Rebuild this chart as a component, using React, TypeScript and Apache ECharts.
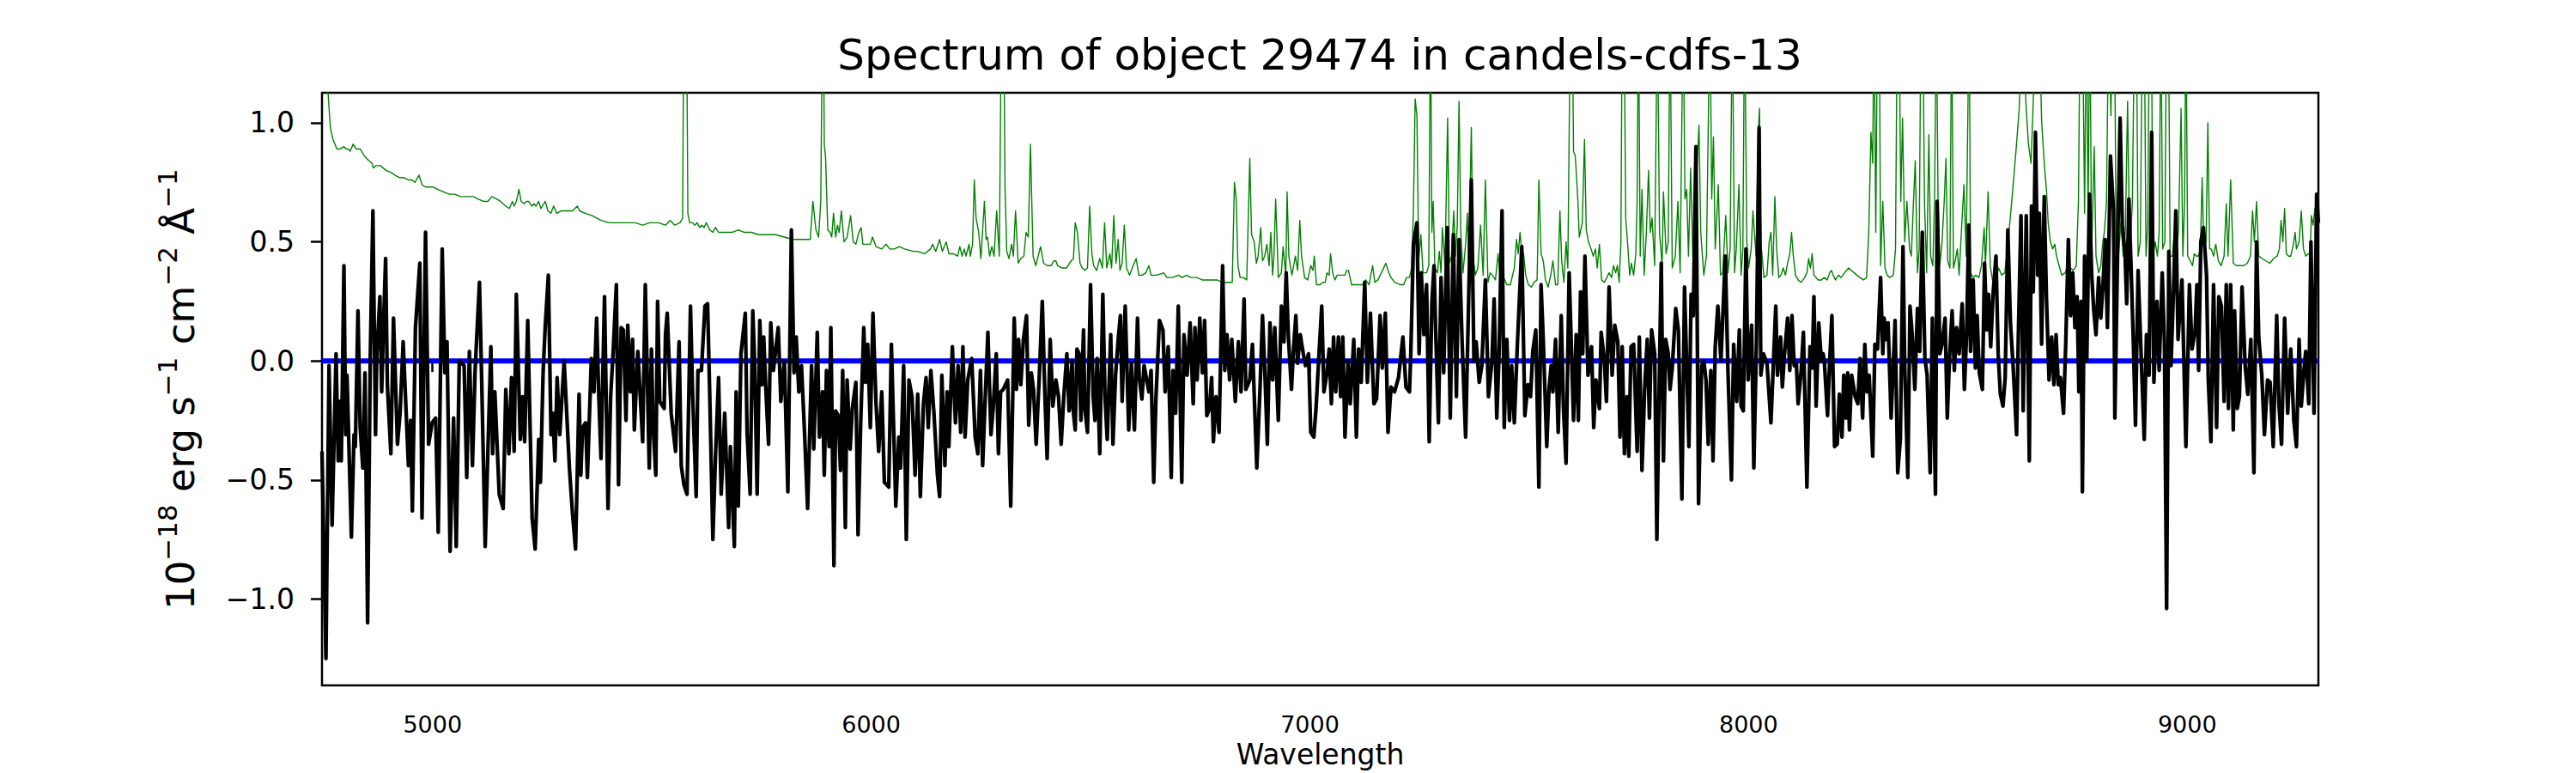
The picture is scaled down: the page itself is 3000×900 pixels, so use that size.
import { useEffect, useRef } from "react";
import * as echarts from "echarts";

const TITLE = "Spectrum of object 29474 in candels-cdfs-13";
const X_LABEL = "Wavelength";
const Y_LABEL = "{n|10}{s|\u221218}{n| erg s}{s|\u22121}{n| cm}{s|\u22122}{n| \u00c5}{s|\u22121}";
const X_RANGE = [4748, 9299];
const Y_RANGE = [-1.363, 1.126];
const X_TICKS = [5000, 6000, 7000, 8000, 9000];
const Y_TICKS = [-1.0, -0.5, 0.0, 0.5, 1.0];

// observed flux (black)
const fluxPoints: [number, number][] = [
  [4748,-0.38],[4757,-1.25],[4764,-0.02],[4771,-0.69],[4780,0.03],[4785,-0.42],[4788,-0.17],[4792,-0.42],[4798,0.40],[4802,-0.31],
  [4805,-0.06],[4815,-0.74],[4821,-0.31],[4824,-0.36],[4830,0.21],[4835,-0.28],[4841,-0.45],[4846,-0.05],[4852,-1.10],[4858,0.01],
  [4864,0.63],[4870,-0.31],[4873,0.03],[4880,0.27],[4884,-0.13],[4888,0.14],[4893,0.43],[4897,-0.10],[4905,-0.39],[4911,0.18],
  [4920,-0.35],[4926,-0.22],[4933,0.08],[4945,-0.44],[4950,-0.25],[4954,-0.63],[4961,0.14],[4971,0.41],[4976,-0.66],[4984,0.54],
  [4991,-0.35],[4999,-0.26],[5007,-0.24],[5013,-0.72],[5022,0.47],[5028,-0.05],[5033,0.08],[5040,-0.80],[5048,-0.24],[5054,-0.78],
  [5061,0.00],[5072,-0.02],[5078,-0.49],[5084,0.04],[5091,-0.44],[5097,-0.04],[5107,0.33],[5112,-0.08],[5120,-0.78],[5133,0.06],
  [5137,-0.39],[5142,-0.13],[5152,-0.56],[5161,-0.62],[5167,-0.12],[5174,-0.39],[5180,-0.07],[5186,-0.38],[5191,0.28],[5200,-0.33],
  [5205,-0.15],[5210,-0.34],[5217,0.17],[5227,-0.66],[5234,-0.79],[5242,-0.33],[5246,-0.51],[5252,-0.05],[5257,0.15],[5264,0.36],
  [5270,-0.31],[5274,-0.22],[5279,-0.42],[5284,-0.07],[5290,-0.31],[5300,0.00],[5312,-0.45],[5319,-0.64],[5326,-0.79],
  [5334,-0.14],[5338,-0.48],[5342,-0.28],[5349,-0.26],[5353,-0.49],[5362,0.01],[5368,-0.13],[5374,0.18],[5379,-0.15],[5384,-0.41],
  [5392,0.27],[5400,-0.62],[5406,-0.15],[5412,0.05],[5419,0.32],[5424,-0.52],[5430,0.14],[5435,0.13],[5441,-0.25],[5445,0.15],
  [5451,-0.13],[5456,0.09],[5460,-0.29],[5468,0.04],[5479,-0.34],[5485,0.32],[5494,-0.45],[5499,0.05],[5503,-0.28],[5509,-0.48],
  [5513,0.25],[5518,-0.17],[5528,-0.20],[5531,0.11],[5535,0.20],[5544,-0.22],[5554,-0.38],[5562,0.08],[5567,-0.44],[5573,-0.52],
  [5580,-0.56],[5588,0.23],[5593,-0.15],[5601,-0.57],[5605,-0.04],[5613,-0.04],[5621,0.23],[5627,0.24],[5632,-0.15],[5639,-0.75],
  [5645,-0.40],[5652,-0.07],[5658,-0.56],[5666,-0.22],[5675,-0.70],[5679,-0.36],[5688,-0.78],[5692,-0.13],[5697,-0.61],[5703,0.03],
  [5713,0.20],[5717,-0.30],[5724,-0.56],[5730,0.21],[5734,0.01],[5740,-0.56],[5746,0.17],[5751,-0.10],[5755,0.10],[5759,-0.09],
  [5766,-0.35],[5771,0.16],[5777,-0.04],[5788,0.14],[5794,-0.17],[5802,0.00],[5810,-0.55],[5818,0.55],[5824,-0.05],[5829,0.10],
  [5835,-0.13],[5841,-0.02],[5848,-0.30],[5855,-0.62],[5864,-0.02],[5869,-0.37],[5877,0.12],[5882,-0.32],[5889,-0.13],[5893,-0.48],
  [5898,-0.04],[5904,-0.36],[5908,0.14],[5915,-0.86],[5919,-0.21],[5925,-0.23],[5930,-0.46],[5935,-0.04],[5941,-0.70],[5945,-0.08],
  [5952,-0.37],[5957,-0.20],[5965,-0.09],[5970,-0.73],[5976,-0.26],[5983,0.14],[5987,-0.09],[5992,0.07],[5998,-0.28],[6004,0.20],
  [6011,-0.18],[6017,-0.38],[6024,-0.13],[6030,-0.51],[6040,-0.53],[6046,0.07],[6056,-0.61],[6063,-0.32],[6067,-0.45],[6074,-0.02],
  [6080,-0.75],[6086,-0.08],[6093,-0.15],[6100,-0.48],[6106,-0.14],[6112,-0.57],[6119,-0.18],[6125,-0.07],[6130,-0.28],[6136,-0.04],
  [6143,-0.22],[6151,-0.48],[6156,-0.57],[6161,-0.06],[6168,-0.44],[6173,-0.13],[6177,-0.36],[6185,0.06],[6192,-0.26],[6198,-0.02],
  [6204,-0.30],[6209,0.06],[6214,-0.32],[6220,-0.08],[6229,0.01],[6237,-0.32],[6243,-0.39],[6249,-0.04],[6254,-0.44],[6260,-0.15],
  [6266,0.12],[6273,-0.31],[6278,-0.20],[6285,0.03],[6290,-0.39],[6295,-0.13],[6301,-0.12],[6311,-0.08],[6318,-0.61],[6326,0.18],
  [6331,-0.12],[6336,0.09],[6341,-0.10],[6347,0.09],[6354,0.19],[6359,-0.27],[6365,-0.05],[6370,-0.12],[6376,-0.35],[6383,-0.07],
  [6390,0.25],[6396,-0.15],[6401,-0.41],[6408,0.09],[6414,-0.19],[6421,-0.08],[6427,-0.15],[6433,-0.35],[6439,-0.15],[6446,0.03],
  [6451,-0.21],[6458,0.00],[6460,-0.20],[6465,-0.29],[6469,0.05],[6474,0.03],[6478,-0.25],[6484,0.13],[6487,-0.20],[6493,-0.30],
  [6500,0.32],[6506,-0.15],[6510,-0.25],[6515,0.01],[6521,-0.39],[6528,0.28],[6533,-0.15],[6538,-0.33],[6546,0.11],[6551,-0.35],
  [6557,-0.06],[6563,0.09],[6568,0.19],[6572,-0.17],[6579,0.23],[6587,-0.29],[6593,-0.01],[6600,-0.29],[6607,0.18],[6611,-0.07],
  [6617,-0.16],[6622,-0.02],[6628,-0.08],[6633,-0.13],[6638,-0.04],[6644,-0.51],[6649,-0.16],[6657,0.17],[6665,0.13],[6670,-0.13],
  [6677,0.06],[6684,-0.49],[6688,-0.04],[6694,-0.22],[6700,0.23],[6708,-0.51],[6713,0.11],[6720,-0.06],[6727,0.16],[6734,-0.18],
  [6738,0.14],[6743,-0.08],[6749,0.18],[6755,-0.05],[6760,0.17],[6765,-0.23],[6771,-0.20],[6776,-0.07],[6780,-0.34],[6786,-0.15],
  [6793,-0.30],[6801,0.40],[6806,-0.04],[6811,0.11],[6817,-0.08],[6822,0.09],[6830,-0.17],[6837,0.08],[6843,-0.13],[6850,0.26],
  [6854,-0.12],[6863,-0.08],[6869,0.07],[6879,-0.45],[6887,-0.08],[6892,0.19],[6898,-0.08],[6903,-0.35],[6909,0.16],[6915,-0.08],
  [6920,0.14],[6928,-0.25],[6935,0.23],[6941,0.08],[6946,0.37],[6951,0.10],[6958,-0.12],[6963,0.06],[6968,0.19],[6972,-0.01],
  [6978,0.11],[6985,0.03],[6990,-0.02],[6997,0.03],[7002,-0.30],[7009,-0.32],[7014,-0.20],[7022,0.07],[7027,0.23],[7032,-0.13],
  [7039,-0.05],[7044,0.05],[7049,-0.18],[7054,0.10],[7059,-0.13],[7065,0.10],[7070,-0.15],[7075,0.10],[7080,-0.32],[7087,0.00],
  [7092,-0.18],[7100,0.09],[7106,-0.32],[7111,0.05],[7117,-0.09],[7125,0.33],[7131,-0.09],[7138,0.20],[7146,-0.18],[7152,-0.16],
  [7160,0.19],[7165,-0.03],[7172,0.20],[7178,-0.30],[7185,-0.11],[7193,-0.13],[7202,-0.07],[7212,0.10],[7219,-0.11],[7227,-0.13],
  [7230,0.03],[7236,0.49],[7244,0.58],[7249,0.03],[7254,0.37],[7260,0.11],[7266,0.32],[7272,-0.34],[7278,0.24],[7283,0.40],
  [7287,0.11],[7293,-0.26],[7299,0.35],[7305,-0.05],[7313,0.56],[7320,-0.24],[7327,0.53],[7334,-0.15],[7340,0.51],[7347,0.08],
  [7355,-0.32],[7361,0.18],[7368,0.76],[7374,0.00],[7379,0.08],[7386,-0.09],[7392,-0.02],[7400,0.34],[7407,-0.15],[7415,0.00],
  [7420,0.26],[7426,-0.24],[7431,0.01],[7438,0.63],[7443,-0.28],[7449,0.09],[7455,-0.25],[7460,-0.02],[7466,-0.26],[7473,0.07],
  [7483,0.48],[7490,-0.23],[7497,-0.10],[7503,-0.15],[7508,0.04],[7515,0.13],[7522,-0.53],[7527,0.32],[7532,0.09],[7540,-0.36],
  [7545,-0.12],[7550,-0.02],[7554,-0.13],[7560,0.09],[7566,-0.30],[7573,0.19],[7578,-0.20],[7584,-0.43],[7591,0.37],[7601,-0.25],
  [7607,0.11],[7612,-0.25],[7617,0.29],[7622,0.03],[7627,0.44],[7634,-0.06],[7642,0.06],[7647,-0.28],[7652,-0.08],[7660,-0.20],
  [7664,0.12],[7671,0.01],[7676,-0.17],[7682,0.31],[7689,-0.06],[7695,0.15],[7702,0.08],[7707,-0.32],[7712,0.06],[7717,-0.39],
  [7723,-0.15],[7727,-0.40],[7732,0.06],[7738,0.07],[7746,-0.38],[7751,0.10],[7757,-0.46],[7763,-0.12],[7769,0.09],[7774,-0.24],
  [7779,0.13],[7786,0.03],[7791,-0.75],[7797,-0.02],[7801,0.41],[7806,-0.42],[7811,0.09],[7817,0.03],[7821,-0.12],[7826,-0.03],
  [7834,0.22],[7840,0.13],[7848,-0.58],[7854,0.31],[7859,-0.02],[7864,-0.36],[7869,0.28],[7874,0.19],[7880,0.90],[7886,-0.60],
  [7893,-0.02],[7898,0.00],[7903,-0.08],[7908,-0.35],[7914,-0.04],[7919,-0.42],[7924,0.06],[7930,0.23],[7937,0.00],[7947,0.44],
  [7953,-0.04],[7961,-0.50],[7966,0.07],[7973,-0.17],[7979,0.13],[7983,-0.19],[7988,-0.21],[7994,0.47],[7999,-0.08],[8007,0.15],
  [8012,-0.45],[8018,0.08],[8024,0.98],[8028,-0.06],[8034,0.03],[8042,-0.01],[8051,-0.26],[8062,0.23],[8066,-0.06],[8073,0.10],
  [8077,-0.11],[8082,0.03],[8089,0.18],[8094,-0.04],[8099,0.19],[8104,-0.02],[8109,-0.01],[8113,-0.18],[8120,-0.04],[8125,0.12],
  [8133,-0.53],[8140,0.06],[8145,-0.03],[8149,0.27],[8154,-0.19],[8160,0.16],[8166,0.00],[8170,0.03],[8173,-0.01],[8180,-0.23],
  [8185,0.00],[8190,0.19],[8196,-0.36],[8202,-0.35],[8207,-0.14],[8213,-0.32],[8217,-0.06],[8222,-0.24],[8226,-0.05],[8230,-0.29],
  [8235,-0.06],[8243,-0.15],[8249,-0.18],[8254,0.01],[8260,-0.24],[8265,0.07],[8270,-0.13],[8275,-0.06],[8283,-0.40],[8288,0.07],
  [8294,0.05],[8301,0.35],[8306,0.03],[8309,0.18],[8314,0.09],[8318,0.16],[8325,-0.24],[8334,0.17],[8340,-0.47],[8346,-0.33],
  [8352,0.48],[8356,-0.02],[8363,-0.49],[8368,0.23],[8373,0.11],[8379,-0.12],[8385,0.22],[8390,0.04],[8396,0.54],[8402,0.01],
  [8407,-0.06],[8414,-0.47],[8419,0.18],[8426,-0.56],[8430,0.67],[8436,0.03],[8441,0.07],[8448,0.18],[8453,-0.24],[8458,0.01],
  [8464,0.21],[8469,-0.04],[8474,0.14],[8480,0.03],[8487,0.24],[8492,-0.12],[8497,0.11],[8502,0.57],[8506,0.04],[8512,0.34],
  [8517,-0.03],[8521,0.19],[8526,-0.05],[8533,-0.12],[8538,0.41],[8543,0.13],[8547,0.28],[8552,0.06],[8557,0.27],[8564,0.44],
  [8569,0.03],[8574,-0.14],[8580,-0.19],[8585,-0.07],[8591,0.55],[8597,0.16],[8603,-0.02],[8611,-0.31],[8615,0.11],[8621,0.61],
  [8626,-0.21],[8633,0.61],[8640,-0.42],[8645,0.65],[8649,0.29],[8654,0.96],[8659,0.36],[8663,0.62],[8668,0.07],[8674,0.69],
  [8679,0.27],[8685,-0.08],[8691,0.10],[8696,-0.10],[8701,0.11],[8706,-0.10],[8711,-0.07],[8718,-0.22],[8723,0.07],[8729,0.51],
  [8734,0.19],[8739,0.37],[8744,0.14],[8749,0.27],[8753,-0.13],[8758,0.25],[8761,-0.55],[8766,0.44],[8771,0.00],[8777,0.70],
  [8782,0.37],[8787,0.21],[8792,0.11],[8798,0.35],[8803,0.18],[8808,0.32],[8813,0.51],[8818,0.14],[8825,0.86],[8832,0.63],
  [8835,-0.24],[8842,0.54],[8847,1.02],[8852,0.57],[8858,0.46],[8862,0.24],[8867,0.68],[8872,0.39],[8877,0.09],[8882,-0.27],
  [8888,0.38],[8894,0.07],[8902,-0.33],[8907,0.11],[8913,-0.06],[8919,0.96],[8924,-0.09],[8931,0.25],[8936,-0.04],[8943,0.37],
  [8948,0.08],[8953,-1.04],[8958,0.46],[8963,-0.02],[8969,0.31],[8974,0.63],[8979,0.09],[8988,0.34],[8997,-0.36],[9005,0.32],
  [9011,0.05],[9018,0.13],[9022,0.32],[9026,-0.04],[9031,0.50],[9037,0.56],[9044,0.36],[9048,-0.08],[9054,-0.34],[9060,0.32],
  [9067,-0.28],[9072,0.27],[9078,0.23],[9084,-0.17],[9089,0.32],[9094,-0.20],[9099,0.32],[9105,-0.29],[9108,0.21],[9114,-0.20],
  [9119,-0.15],[9125,0.31],[9132,-0.02],[9138,-0.14],[9145,0.09],[9152,-0.47],[9158,0.50],[9163,0.10],[9170,-0.06],[9176,-0.31],
  [9183,-0.08],[9189,-0.09],[9196,-0.36],[9204,0.19],[9209,-0.18],[9215,-0.35],[9222,0.18],[9229,-0.22],[9236,0.05],[9243,-0.25],
  [9249,-0.36],[9255,0.09],[9260,-0.19],[9266,-0.04],[9270,0.04],[9277,-0.18],[9282,0.50],[9289,-0.22],[9295,0.70],[9299,0.58],
];

// noise / error spectrum (green)
const noisePoints: [number, number][] = [
  [4748,1.32],[4762,1.12],[4767,0.98],[4773,0.93],[4782,0.89],[4790,0.89],[4798,0.90],[4803,0.89],[4808,0.89],[4812,0.88],
  [4819,0.91],[4826,0.89],[4835,0.89],[4845,0.86],[4855,0.84],[4862,0.83],[4865,0.81],[4871,0.82],[4881,0.82],[4894,0.80],
  [4907,0.79],[4914,0.78],[4924,0.77],[4933,0.77],[4945,0.76],[4953,0.76],[4960,0.75],[4969,0.78],[4976,0.74],[4984,0.73],
  [4994,0.73],[5002,0.73],[5012,0.72],[5025,0.71],[5038,0.70],[5051,0.70],[5064,0.69],[5077,0.69],[5093,0.69],[5103,0.68],
  [5116,0.67],[5126,0.67],[5135,0.69],[5146,0.68],[5155,0.67],[5167,0.65],[5175,0.64],[5182,0.67],[5186,0.65],[5191,0.67],
  [5197,0.72],[5202,0.67],[5209,0.66],[5214,0.67],[5219,0.67],[5226,0.65],[5231,0.66],[5236,0.65],[5242,0.67],[5247,0.64],
  [5257,0.67],[5263,0.63],[5270,0.62],[5276,0.65],[5283,0.62],[5293,0.63],[5306,0.63],[5319,0.63],[5330,0.65],[5335,0.63],
  [5348,0.62],[5364,0.61],[5384,0.59],[5404,0.58],[5423,0.58],[5436,0.58],[5449,0.58],[5462,0.58],[5479,0.57],[5495,0.58],
  [5515,0.58],[5531,0.57],[5542,0.59],[5552,0.57],[5564,0.58],[5570,0.60],[5573,1.5],[5579,1.5],[5582,0.62],[5586,0.58],
  [5593,0.58],[5598,0.57],[5603,0.58],[5609,0.56],[5614,0.57],[5619,0.56],[5624,0.58],[5632,0.55],[5639,0.54],[5645,0.56],
  [5652,0.54],[5661,0.54],[5671,0.54],[5684,0.54],[5697,0.55],[5710,0.54],[5727,0.54],[5743,0.53],[5763,0.53],[5782,0.53],
  [5802,0.52],[5821,0.51],[5841,0.51],[5861,0.51],[5867,0.67],[5874,0.55],[5880,0.52],[5885,0.67],[5889,1.5],[5891,1.5],
  [5893,0.91],[5896,0.85],[5901,0.55],[5906,0.54],[5910,0.52],[5914,0.62],[5919,0.52],[5923,0.57],[5927,0.54],[5932,0.63],
  [5938,0.50],[5945,0.52],[5953,0.61],[5959,0.50],[5965,0.49],[5972,0.54],[5977,0.56],[5981,0.49],[5991,0.49],[5998,0.49],
  [6003,0.52],[6011,0.48],[6024,0.47],[6034,0.49],[6042,0.47],[6053,0.47],[6064,0.48],[6076,0.47],[6096,0.46],[6105,0.46],
  [6122,0.45],[6135,0.47],[6140,0.49],[6147,0.46],[6156,0.51],[6162,0.46],[6171,0.50],[6177,0.45],[6187,0.45],[6197,0.44],
  [6202,0.48],[6207,0.44],[6212,0.47],[6216,0.44],[6223,0.49],[6226,0.44],[6231,0.49],[6235,0.76],[6239,0.60],[6245,0.54],
  [6250,0.43],[6258,0.67],[6262,0.51],[6265,0.52],[6270,0.44],[6275,0.48],[6280,0.44],[6286,0.63],[6292,0.44],[6297,1.5],
  [6302,1.5],[6305,0.73],[6309,0.46],[6314,0.43],[6320,0.49],[6324,0.44],[6329,0.63],[6335,0.41],[6341,0.43],[6348,0.44],
  [6353,0.54],[6358,0.52],[6363,0.91],[6369,0.44],[6375,0.40],[6382,0.45],[6386,0.48],[6393,0.41],[6401,0.40],[6410,0.40],
  [6416,0.42],[6421,0.42],[6425,0.40],[6435,0.39],[6445,0.39],[6452,0.41],[6456,0.42],[6461,0.43],[6465,0.58],[6470,0.54],
  [6476,0.41],[6481,0.39],[6487,0.38],[6493,0.39],[6498,0.65],[6503,0.45],[6507,0.40],[6514,0.38],[6521,0.43],[6527,0.39],
  [6532,0.58],[6537,0.39],[6544,0.45],[6548,0.39],[6553,0.61],[6558,0.41],[6563,0.51],[6567,0.38],[6572,0.41],[6577,0.57],
  [6582,0.39],[6589,0.36],[6597,0.40],[6604,0.43],[6610,0.36],[6618,0.36],[6626,0.37],[6633,0.40],[6638,0.36],[6651,0.36],
  [6667,0.37],[6674,0.35],[6687,0.35],[6700,0.36],[6709,0.35],[6719,0.36],[6729,0.35],[6742,0.35],[6755,0.34],[6771,0.34],
  [6788,0.34],[6800,0.33],[6814,0.33],[6823,0.33],[6828,0.75],[6832,0.68],[6836,0.40],[6841,0.35],[6848,0.35],[6856,0.34],
  [6863,0.85],[6867,0.53],[6873,0.50],[6878,0.41],[6882,0.44],[6888,0.56],[6892,0.42],[6897,0.44],[6902,0.49],[6907,0.40],
  [6911,0.54],[6915,0.36],[6918,0.44],[6922,0.68],[6928,0.35],[6935,0.37],[6939,0.48],[6945,0.36],[6948,0.71],[6952,0.44],
  [6959,0.36],[6967,0.44],[6972,0.38],[6977,0.59],[6981,0.44],[6988,0.35],[6995,0.34],[7002,0.40],[7007,0.38],[7010,0.44],
  [7015,0.32],[7023,0.32],[7029,0.33],[7035,0.33],[7039,0.37],[7044,0.36],[7047,0.45],[7052,0.37],[7057,0.34],[7062,0.36],
  [7069,0.36],[7075,0.36],[7080,0.36],[7084,0.38],[7088,0.38],[7095,0.32],[7108,0.32],[7121,0.32],[7127,0.34],[7135,0.32],
  [7143,0.40],[7148,0.33],[7155,0.34],[7163,0.37],[7173,0.41],[7180,0.37],[7185,0.35],[7193,0.33],[7206,0.32],[7214,0.32],
  [7220,0.35],[7227,0.35],[7232,0.39],[7236,0.63],[7240,1.10],[7244,1.03],[7248,0.42],[7253,0.53],[7258,0.37],[7266,0.37],
  [7271,0.40],[7275,1.5],[7278,0.54],[7281,0.67],[7285,0.39],[7291,0.37],[7295,0.46],[7299,0.37],[7302,0.56],[7308,0.40],
  [7314,1.02],[7318,0.41],[7323,0.44],[7328,0.63],[7332,0.44],[7336,0.57],[7340,1.09],[7344,0.54],[7349,0.37],[7355,0.49],
  [7359,0.62],[7362,0.39],[7368,0.98],[7372,0.44],[7377,0.36],[7383,0.39],[7389,0.57],[7395,0.36],[7400,0.76],[7406,0.33],
  [7411,0.37],[7416,0.36],[7423,0.34],[7429,0.45],[7434,0.34],[7442,0.35],[7449,0.32],[7457,0.32],[7466,0.39],[7471,0.51],
  [7475,0.45],[7479,0.54],[7483,0.46],[7487,0.45],[7492,0.36],[7498,0.32],[7505,0.31],[7511,0.33],[7518,0.34],[7522,0.76],
  [7527,0.45],[7532,0.42],[7537,0.34],[7543,0.31],[7549,0.36],[7554,0.42],[7560,0.32],[7565,0.32],[7570,0.63],[7574,0.42],
  [7579,0.33],[7584,0.50],[7588,0.39],[7594,1.5],[7598,1.5],[7601,0.88],[7605,0.86],[7611,0.67],[7614,0.52],[7621,0.58],
  [7626,0.93],[7630,0.55],[7635,0.50],[7641,0.47],[7646,0.44],[7651,0.47],[7655,0.39],[7660,0.49],[7665,0.34],[7671,0.33],
  [7677,0.35],[7682,0.37],[7688,0.35],[7692,0.40],[7697,0.37],[7701,0.40],[7705,0.33],[7709,0.50],[7712,1.5],[7716,1.5],
  [7720,0.60],[7724,0.50],[7729,0.36],[7733,0.41],[7738,0.36],[7743,0.45],[7746,0.67],[7749,1.5],[7753,0.44],[7757,0.72],
  [7762,0.36],[7767,0.54],[7772,0.80],[7776,0.54],[7780,0.60],[7786,0.40],[7792,1.5],[7797,0.54],[7803,0.40],[7806,0.71],
  [7812,0.45],[7817,0.50],[7821,1.5],[7826,0.39],[7833,0.44],[7839,0.67],[7844,0.37],[7851,1.5],[7855,0.68],[7859,0.72],
  [7863,0.44],[7868,0.81],[7873,0.44],[7878,0.62],[7887,0.99],[7891,0.54],[7898,0.36],[7904,0.44],[7912,1.5],[7916,0.68],
  [7920,0.94],[7924,0.47],[7931,0.74],[7936,0.36],[7941,0.37],[7948,0.61],[7953,0.37],[7958,0.47],[7963,1.5],[7968,0.37],
  [7972,0.47],[7978,0.74],[7983,0.36],[7987,0.47],[7991,1.5],[7996,0.50],[8000,0.39],[8006,0.47],[8010,0.63],[8017,0.44],
  [8022,0.96],[8025,1.06],[8028,0.50],[8035,0.35],[8042,0.36],[8047,0.50],[8051,0.54],[8055,0.36],[8060,0.69],[8064,0.47],
  [8069,0.35],[8074,0.36],[8079,0.39],[8084,0.36],[8089,0.41],[8094,0.45],[8098,0.54],[8102,0.44],[8107,0.36],[8113,0.34],
  [8120,0.33],[8128,0.35],[8133,0.37],[8137,0.43],[8141,0.39],[8145,0.45],[8149,0.36],[8154,0.35],[8158,0.34],[8166,0.34],
  [8172,0.35],[8179,0.34],[8185,0.37],[8189,0.38],[8193,0.36],[8198,0.34],[8205,0.36],[8211,0.35],[8219,0.37],[8228,0.39],
  [8234,0.38],[8241,0.37],[8247,0.36],[8254,0.35],[8262,0.34],[8269,0.35],[8274,0.54],[8279,0.96],[8283,0.83],[8286,1.5],
  [8290,0.54],[8294,1.5],[8298,1.5],[8301,0.40],[8306,0.67],[8311,0.39],[8316,0.36],[8322,0.35],[8330,0.36],[8335,0.47],
  [8339,1.5],[8343,1.5],[8347,0.67],[8351,1.02],[8356,0.50],[8361,0.67],[8367,0.47],[8371,0.44],[8376,0.67],[8380,0.84],
  [8385,0.37],[8389,0.47],[8393,1.5],[8397,1.5],[8401,0.67],[8406,0.37],[8411,0.95],[8415,0.44],[8420,0.40],[8424,0.67],
  [8428,1.5],[8432,0.67],[8436,0.40],[8441,0.50],[8446,0.67],[8450,0.85],[8454,0.42],[8459,0.39],[8463,1.5],[8467,0.39],
  [8471,0.42],[8476,0.47],[8480,0.36],[8486,0.57],[8491,0.74],[8496,0.44],[8503,1.5],[8506,0.37],[8512,0.35],[8518,0.36],
  [8525,0.35],[8531,0.40],[8537,0.56],[8540,0.40],[8546,0.71],[8551,0.40],[8556,0.34],[8564,0.34],[8570,0.39],[8577,0.36],
  [8584,0.37],[8590,0.47],[8600,0.67],[8610,0.89],[8617,1.06],[8625,1.5],[8632,1.09],[8638,0.91],[8644,0.83],[8649,1.09],
  [8654,1.5],[8662,1.5],[8668,1.01],[8674,0.83],[8679,0.72],[8683,0.58],[8688,0.50],[8693,0.47],[8698,0.49],[8702,0.44],
  [8708,0.40],[8714,0.36],[8722,0.37],[8727,0.40],[8734,0.39],[8740,0.38],[8747,0.40],[8752,0.67],[8756,1.5],[8761,1.5],
  [8766,0.62],[8770,1.5],[8774,0.62],[8778,1.5],[8782,0.45],[8788,0.90],[8792,0.44],[8798,0.37],[8803,0.40],[8807,0.49],
  [8811,0.54],[8816,0.67],[8821,1.5],[8826,1.03],[8830,1.5],[8834,1.5],[8838,0.47],[8843,0.44],[8849,0.58],[8854,0.44],
  [8859,0.55],[8864,1.09],[8869,0.44],[8875,0.67],[8880,1.5],[8884,1.5],[8888,0.44],[8893,0.50],[8898,1.5],[8902,1.5],
  [8906,0.44],[8910,0.58],[8914,1.5],[8918,1.5],[8922,0.44],[8927,0.50],[8932,0.44],[8936,0.54],[8940,1.5],[8944,0.47],
  [8949,0.50],[8953,1.5],[8957,1.5],[8961,0.44],[8966,0.44],[8971,0.54],[8975,0.47],[8980,0.54],[8986,1.06],[8990,0.44],
  [8994,0.67],[8997,1.5],[9001,0.44],[9007,0.42],[9012,0.40],[9016,0.45],[9021,0.44],[9025,0.44],[9030,0.47],[9034,0.77],
  [9038,0.47],[9043,0.50],[9047,1.00],[9051,0.47],[9055,0.47],[9060,0.44],[9065,0.49],[9071,0.42],[9077,0.40],[9084,0.44],
  [9089,0.66],[9093,0.44],[9099,0.76],[9105,0.41],[9112,0.40],[9120,0.40],[9129,0.40],[9137,0.41],[9144,0.44],[9149,0.63],
  [9153,0.50],[9158,0.67],[9163,0.44],[9171,0.43],[9179,0.42],[9188,0.41],[9197,0.43],[9205,0.44],[9210,0.47],[9214,0.59],
  [9218,0.50],[9222,0.64],[9226,0.45],[9231,0.44],[9236,0.44],[9242,0.49],[9246,0.54],[9249,0.47],[9255,0.50],[9260,0.63],
  [9265,0.47],[9270,0.44],[9276,0.45],[9280,0.44],[9283,0.61],[9287,0.57],[9291,0.64],[9295,0.50],[9299,0.70],
];

// zero level (blue)
const zeroPoints: [number, number][] = [[4748, 0], [9299, 0]];

const FONT = "DejaVu Sans";
const fmtY = (v: number) => v.toFixed(1).replace("-", "\u2212");

export default function App() {
  const ref = useRef<HTMLDivElement>(null);
  useEffect(() => {
    if (!ref.current) return;
    const chart = echarts.init(ref.current, null, { renderer: "svg" });
    chart.setOption({
      animation: false,
      backgroundColor: "#ffffff",
      textStyle: { fontFamily: FONT },
      title: {
        text: TITLE,
        left: 1537,
        top: 39,
        textAlign: "center",
        padding: 0,
        textStyle: { fontFamily: FONT, fontSize: 50, lineHeight: 50, fontWeight: "normal", color: "#000" },
      },
      grid: {
        left: 375,
        right: 300,
        top: 108,
        bottom: 99,
        show: true,
        borderColor: "#000",
        borderWidth: 2.5,
        backgroundColor: "transparent",
      },
      xAxis: {
        type: "value",
        min: X_RANGE[0],
        max: X_RANGE[1],
        name: X_LABEL,
        nameLocation: "middle",
        nameGap: 60,
        nameTextStyle: { fontFamily: FONT, fontSize: 33, lineHeight: 33, color: "#000" },
        axisLine: { show: false },
        axisTick: { show: true, inside: false, length: 13, customValues: X_TICKS, lineStyle: { color: "#000", width: 2.5 } },
        axisLabel: {
          margin: 32,
          fontFamily: FONT,
          fontSize: 27,
          lineHeight: 27,
          color: "#000",
          customValues: X_TICKS,
          formatter: (v: number) => String(v),
        },
        splitLine: { show: false },
      },
      yAxis: {
        type: "value",
        min: Y_RANGE[0],
        max: Y_RANGE[1],
        name: Y_LABEL,
        nameLocation: "middle",
        nameRotate: 90,
        nameGap: 134,
        nameTextStyle: {
          fontFamily: FONT,
          color: "#000",
          rich: {
            n: { fontFamily: FONT, fontSize: 45, lineHeight: 62, color: "#000" },
            s: { fontFamily: FONT, fontSize: 31, lineHeight: 31, verticalAlign: "top", color: "#000" },
          },
        },
        axisLine: { show: false },
        axisTick: { show: true, inside: false, length: 13, customValues: Y_TICKS, lineStyle: { color: "#000", width: 2.5 } },
        axisLabel: {
          margin: 32,
          fontFamily: FONT,
          fontSize: 33,
          color: "#000",
          customValues: Y_TICKS,
          formatter: fmtY,
        },
        splitLine: { show: false },
      },
      series: [
        {
          type: "line",
          data: noisePoints,
          symbol: "none",
          silent: true,
          clip: true,
          lineStyle: { color: "#008000", width: 1.4, join: "round" },
          z: 2,
        },
        {
          type: "line",
          data: zeroPoints,
          symbol: "none",
          silent: true,
          clip: true,
          lineStyle: { color: "#0000ff", width: 6 },
          z: 3,
        },
        {
          type: "line",
          data: fluxPoints,
          symbol: "none",
          silent: true,
          clip: true,
          lineStyle: { color: "#000000", width: 4.3, join: "round" },
          z: 4,
        },
      ],
    });
    return () => chart.dispose();
  }, []);
  return (
    <div
      ref={ref}
      style={{ position: "fixed", left: 0, top: 0, width: 3000, height: 900, background: "#fff" }}
    />
  );
}
